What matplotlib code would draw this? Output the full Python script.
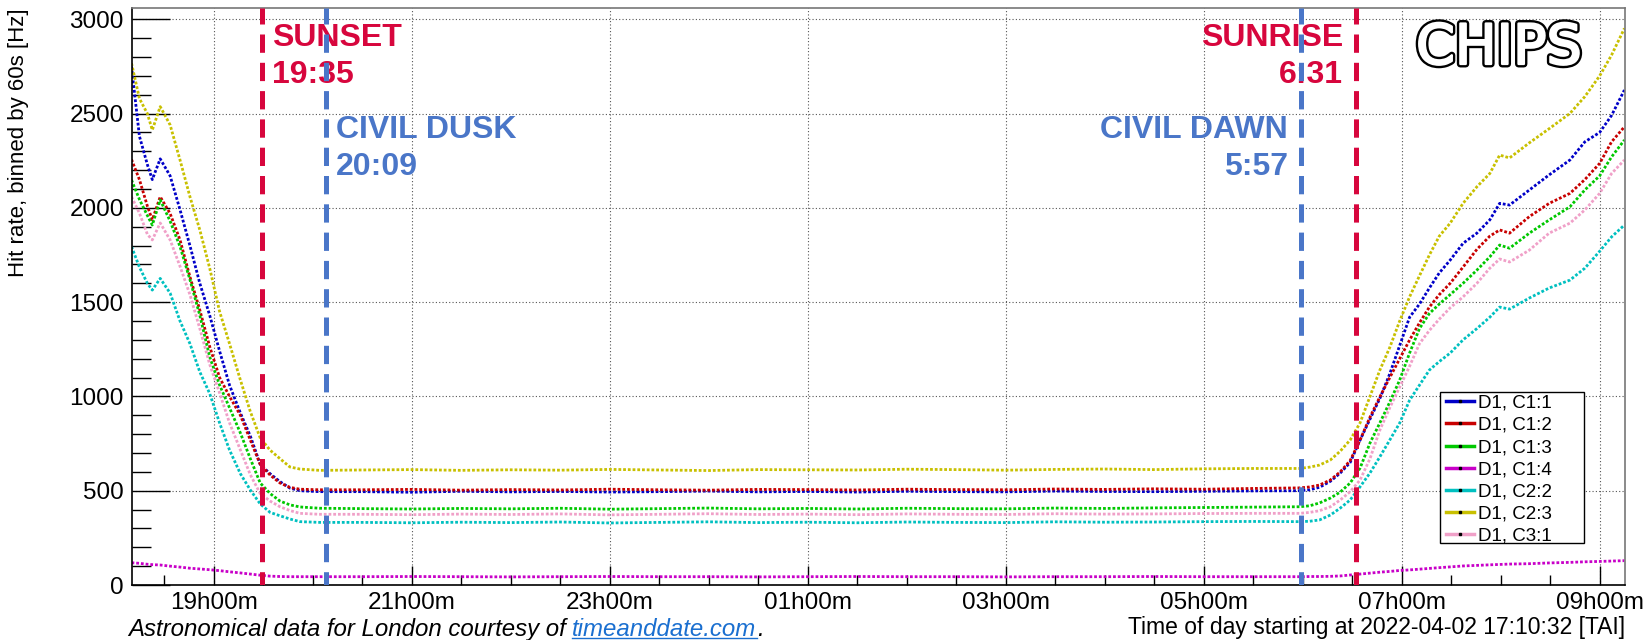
import matplotlib
matplotlib.use("Agg")
import matplotlib.pyplot as plt
import matplotlib.transforms as mtransforms
import matplotlib.patheffects as pe
from matplotlib.lines import Line2D
from matplotlib.patches import Rectangle
from matplotlib.ticker import FixedLocator, MultipleLocator, FuncFormatter

plt.rcParams['font.family'] = ['Liberation Sans', 'DejaVu Sans']

# time of day in hours (values above 24 are the next morning)
hours = [18.17, 18.25, 18.33, 18.38, 18.46, 18.56, 18.66, 18.76, 18.86, 18.96,
         19.06, 19.16, 19.27, 19.37, 19.47, 19.57, 19.67, 19.77, 19.87, 20.07,
         20.5, 21.0, 21.5, 22.0, 22.5, 23.0, 23.5, 24.0, 24.5, 25.0,
         25.5, 26.0, 26.5, 27.0, 27.5, 28.0, 28.5, 29.0, 29.5,
         29.97, 30.07, 30.17, 30.28, 30.38, 30.48, 30.58, 30.68, 30.78, 30.88,
         30.98, 31.08, 31.18, 31.28, 31.38, 31.49, 31.62, 31.76, 31.89, 31.99,
         32.09, 32.29, 32.49, 32.70, 32.85, 33.0, 33.12, 33.25]

c1_1 = [2750, 2380, 2230, 2150, 2260, 2170, 1990, 1800, 1600, 1430,
        1240, 1060, 912, 790, 640, 590, 548, 514, 500, 495,
        495, 492, 497, 494, 496, 493, 495, 498, 494, 496,
        493, 497, 495, 494, 498, 496, 495, 497, 499,
        500, 505, 518, 550, 594, 650, 769, 880, 990, 1120,
        1270, 1420, 1490, 1575, 1655, 1723, 1812, 1866, 1936, 2024,
        2015, 2095, 2175, 2254, 2350, 2400, 2490, 2625]
c1_2 = [2257, 2150, 2010, 1936, 2059, 1970, 1830, 1635, 1458, 1264,
        1100, 1000, 900, 769, 640, 583, 541, 518, 508, 505,
        505, 507, 503, 506, 504, 508, 505, 503, 507, 506,
        504, 508, 506, 505, 509, 507, 510, 508, 512,
        515, 520, 530, 557, 600, 660, 769, 890, 998, 1100,
        1200, 1299, 1390, 1474, 1540, 1600, 1686, 1780, 1850, 1883,
        1866, 1954, 2024, 2077, 2150, 2236, 2350, 2430]
c1_3 = [2148, 2045, 1960, 1909, 2042, 1930, 1795, 1620, 1430, 1209,
        1060, 940, 806, 670, 541, 485, 445, 425, 414, 407,
        405, 403, 406, 404, 407, 402, 405, 408, 404, 406,
        403, 407, 405, 404, 408, 406, 409, 411, 413,
        415, 420, 435, 461, 493, 541, 620, 753, 860, 970,
        1087, 1230, 1360, 1440, 1490, 1540, 1600, 1670, 1740, 1803,
        1786, 1866, 1936, 2006, 2095, 2170, 2270, 2360]
c1_4 = [118, 115, 110, 108, 106, 100, 95, 89, 85, 81,
        76, 70, 64, 58, 52, 47, 45, 44, 44, 44,
        44, 45, 44, 43, 44, 45, 44, 44, 43, 44,
        45, 44, 44, 43, 44, 44, 45, 44, 44,
        44, 45, 45, 46, 48, 53, 58, 63, 68, 72,
        77, 80, 84, 88, 92, 96, 101, 104, 107, 109,
        111, 113, 117, 120, 123, 125, 127, 129]
c2_2 = [1795, 1686, 1600, 1564, 1626, 1548, 1400, 1280, 1130, 1015,
        859, 716, 590, 504, 430, 385, 367, 350, 336, 332,
        332, 330, 333, 331, 334, 329, 332, 335, 331, 333,
        330, 334, 332, 331, 335, 333, 334, 336, 337,
        336, 338, 345, 371, 408, 451, 521, 594, 680, 769,
        859, 980, 1060, 1140, 1185, 1230, 1300, 1360, 1420, 1474,
        1463, 1522, 1575, 1617, 1680, 1770, 1846, 1909]
c2_3 = [2767, 2580, 2500, 2413, 2537, 2440, 2254, 2060, 1883, 1680,
        1450, 1280, 1087, 920, 780, 715, 670, 626, 615, 608,
        610, 612, 608, 611, 609, 613, 610, 607, 612, 611,
        610, 614, 612, 609, 613, 615, 612, 616, 618,
        618, 625, 636, 663, 710, 769, 860, 1000, 1140, 1260,
        1400, 1528, 1640, 1750, 1850, 1919, 2024, 2112, 2182, 2280,
        2265, 2345, 2420, 2501, 2590, 2700, 2810, 2952]
c3_1 = [2059, 1972, 1860, 1830, 1920, 1830, 1690, 1540, 1360, 1170,
        1018, 860, 716, 585, 485, 445, 415, 395, 380, 375,
        375, 373, 376, 374, 377, 372, 375, 378, 374, 376,
        373, 377, 375, 374, 378, 376, 377, 379, 380,
        380, 385, 394, 415, 451, 495, 557, 670, 822, 940,
        1050, 1160, 1280, 1350, 1410, 1470, 1528, 1600, 1680, 1729,
        1713, 1776, 1866, 1919, 1989, 2077, 2182, 2254]

channels = ["D1, C1:1", "D1, C1:2", "D1, C1:3", "D1, C1:4",
            "D1, C2:2", "D1, C2:3", "D1, C3:1"]
series = [c1_1, c1_2, c1_3, c1_4, c2_2, c2_3, c3_1]
colors = ["#0000c8", "#c80000", "#00c800", "#c800c8",
          "#00c0c0", "#c8c000", "#f0a0c8"]

# sunset, civil dusk, civil dawn, sunrise (positions on the time axis)
event_hours = [19.49, 20.13, 29.98, 30.54]
event_names = ["SUNSET", "CIVIL DUSK", "CIVIL DAWN", "SUNRISE"]
event_times = ["19:35", "20:09", "5:57", "6:31"]
event_colors = ["#d7063d", "#4a76c8", "#4a76c8", "#d7063d"]

W, H = 1646, 640
fig = plt.figure(figsize=(W / 100, H / 100), dpi=100)
ax = fig.add_axes([132 / W, 1 - 585 / H, (1625 - 132) / W, (585 - 8) / H])

for vals, col, lab in zip(series, colors, channels):
    ax.plot(hours, vals, color=col, lw=2.0, linestyle=(0, (1, 0.7)), label=lab)

ax.set_xlim(18.175, 33.256)
ax.set_ylim(0, 3060)

ax.xaxis.set_major_locator(FixedLocator([19, 21, 23, 25, 27, 29, 31, 33]))
ax.xaxis.set_minor_locator(MultipleLocator(0.5))
ax.xaxis.set_major_formatter(FuncFormatter(lambda v, p: "%02dh00m" % (int(round(v)) % 24)))
ax.yaxis.set_major_locator(MultipleLocator(500))
ax.yaxis.set_minor_locator(MultipleLocator(100))

ax.tick_params(axis='x', which='major', direction='in', length=14, width=1, labelsize=17.5, pad=5)
ax.tick_params(axis='x', which='minor', direction='in', length=7, width=1)
ax.tick_params(axis='y', which='major', direction='in', length=27, width=1, labelsize=17.5, pad=6)
ax.tick_params(axis='y', which='minor', direction='in', length=13.5, width=1)
ax.tick_params(top=False, right=False, which='both')
ax.grid(True, which='major', linestyle=(0, (1, 2)), color='#555555', lw=0.8)
for s in ax.spines.values():
    s.set_linewidth(1.2)
ax.spines['top'].set_color('#777777')
ax.spines['right'].set_color('#777777')

# day/night markers
for i, (h, name, tm, col) in enumerate(zip(event_hours, event_names, event_times, event_colors)):
    ax.axvline(h, color=col, lw=3.6, linestyle=(1, (3.66, 2)), zorder=5)
    trans = mtransforms.blended_transform_factory(ax.transData, fig.transFigure)
    if i < 2:
        t = mtransforms.offset_copy(trans, fig=fig, x=10, y=0, units='dots')
        ha = 'left'
    else:
        t = mtransforms.offset_copy(trans, fig=fig, x=-13, y=0, units='dots')
        ha = 'right'
    y1 = 46 if i in (0, 3) else 138
    ax.text(h, 1 - y1 / H, name, transform=t, ha=ha, va='baseline',
            fontsize=23, fontweight='bold', color=col)
    ax.text(h, 1 - (y1 + 37) / H, tm, transform=t, ha=ha, va='baseline',
            fontsize=23, fontweight='bold', color=col)

# legend: fixed-size white box like the ROOT one
ax.add_patch(Rectangle((1440 / W, 1 - 543 / H), 144 / W, 151 / H,
                       transform=fig.transFigure, facecolor='white',
                       edgecolor='black', lw=1.0, zorder=4.9, clip_on=False))
handles = [Line2D([], [], color=c, lw=2.5, marker='s', markersize=1.5,
                  markerfacecolor='k', markeredgecolor='k') for c in colors]
leg = ax.legend(handles, channels, loc='upper left',
                bbox_to_anchor=(1440 / W, 1 - 389 / H),
                bbox_transform=fig.transFigure,
                fontsize=13.5, frameon=False, handlelength=1.5, handletextpad=0.2,
                labelspacing=0.27, borderpad=0.3, borderaxespad=0)

# CHIPS logo
fig.text(1499 / W, 1 - 49 / H, "CHIPS", ha='center', va='center', fontsize=40,
         family='DejaVu Sans', color='white',
         path_effects=[pe.Stroke(linewidth=5, foreground='black'),
                       pe.Stroke(linewidth=1.6, foreground='white'), pe.Normal()])

fig.text(19 / W, 1 - 8 / H, "Hit rate, binned by 60s [Hz]", rotation=90,
         ha='center', va='top', fontsize=16)
fig.text(1625 / W, 1 - 634 / H, "Time of day starting at 2022-04-02 17:10:32 [TAI]",
         ha='right', va='baseline', fontsize=16.5)

# footer with link
fig.canvas.draw()
r = fig.canvas.get_renderer()
yb = 1 - 636 / H
t1 = fig.text(128 / W, yb, "Astronomical data for London courtesy of ", style='italic',
              fontsize=17.3, va='baseline')
bb = t1.get_window_extent(r)
t2 = fig.text(bb.x1 / W, yb, "timeanddate.com", style='italic', fontsize=17.3,
              va='baseline', color='#1a6fd0')
bb2 = t2.get_window_extent(r)
fig.add_artist(Line2D([bb2.x0 / W, bb2.x1 / W], [yb - 2 / H, yb - 2 / H],
                      transform=fig.transFigure, color='#1a6fd0', lw=1))
fig.text(bb2.x1 / W, yb, ".", style='italic', fontsize=17.3, va='baseline')

fig.savefig("out.png", dpi=100)
